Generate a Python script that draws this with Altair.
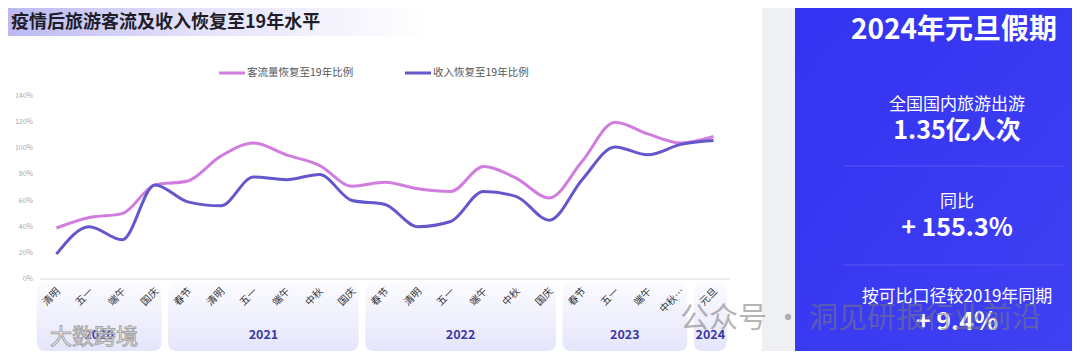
import altair as alt
import pandas as pd

# ---------------- data ----------------
holidays = ["清明", "五一", "端午", "国庆",
            "春节", "清明", "五一", "端午", "中秋", "国庆",
            "春节", "清明", "五一", "端午", "中秋", "国庆",
            "春节", "五一", "端午", "中秋…",
            "元旦"]
year_names = ["2020", "2021", "2022", "2023", "2024"]
year_counts = [4, 6, 6, 4, 1]
passenger_pct = [39, 47, 50, 72, 75, 94, 104, 95, 87, 71, 74, 69, 67, 86, 77, 62, 90, 120, 111, 104, 109]
revenue_pct = [19, 40, 30, 72, 59, 56, 78, 76, 80, 60, 57, 40, 44, 67, 63, 45, 76, 101, 95, 103, 106]
series_names = ["客流量恢复至19年比例", "收入恢复至19年比例"]
series_colors = ["#d17de0", "#6457cc"]
y_ticks = [0, 20, 40, 60, 80, 100, 120, 140]

title_text = "疫情后旅游客流及收入恢复至19年水平"
panel_title = "2024年元旦假期"
panel_items = [("全国国内旅游出游", "1.35亿人次"), ("同比", "+ 155.3%"), ("按可比口径较2019年同期", "+ 9.4%")]

FONT = "Noto Sans CJK SC"

# ---------------- tables ----------------
idx = list(range(len(holidays)))
lines_df = pd.DataFrame({
    "idx": idx * 2,
    "series": [series_names[0]] * len(idx) + [series_names[1]] * len(idx),
    "value": passenger_pct + revenue_pct,
})
labels_df = pd.DataFrame({"idx": idx, "label": holidays})
yt_df = pd.DataFrame({"v": y_ticks, "label": [f"{v}%" for v in y_ticks]})

starts, ends, mids = [], [], []
pos = 0
for c in year_counts:
    first, last = pos, pos + c - 1
    s = first - 0.6
    e = last + 0.2 if last < len(holidays) - 1 else last + 0.4
    starts.append(s)
    ends.append(e)
    mids.append((s + e) / 2)
    pos += c
bands_df = pd.DataFrame({"year": year_names, "s": starts, "e": ends, "m": mids})

xs = alt.Scale(domain=[-0.5, len(holidays) - 0.5], range=[32, 722], nice=False, zero=False)
ys = alt.Scale(domain=[0, 140], range=[271, 88], nice=False, zero=False)

one = alt.Chart(pd.DataFrame({"a": [0]}))

# ---------------- decorations ----------------
title_grad = alt.Gradient(gradient="linear",
                          stops=[alt.GradientStop(color="#bcb8f2", offset=0),
                                 alt.GradientStop(color="#e4e2fa", offset=0.45),
                                 alt.GradientStop(color="#ffffff", offset=1)],
                          x1=0, x2=1, y1=0, y2=0)
title_bg = one.mark_rect(fill=title_grad).encode(
    x=alt.value(0), x2=alt.value(420), y=alt.value(0), y2=alt.value(28))
title = one.mark_text(align="left", baseline="middle", font=FONT, fontSize=18,
                      fontWeight="bold", color="#1e1e2a").encode(
    x=alt.value(3), y=alt.value(15), text=alt.value(title_text))

gray_strip = one.mark_rect(fill="#eff0f3").encode(
    x=alt.value(754), x2=alt.value(787), y=alt.value(0), y2=alt.value(343))
panel_grad = alt.Gradient(gradient="linear",
                          stops=[alt.GradientStop(color="#3333f2", offset=0),
                                 alt.GradientStop(color="#4040f3", offset=1)],
                          x1=0, x2=1, y1=0, y2=1)
panel = one.mark_rect(fill=panel_grad).encode(
    x=alt.value(787), x2=alt.value(1064), y=alt.value(0), y2=alt.value(343))

PX = 946
panel_layers = [
    one.mark_text(align="center", baseline="middle", font=FONT, fontSize=28,
                  fontWeight="bold", color="white").encode(
        x=alt.value(PX), y=alt.value(23), text=alt.value(panel_title)),
]
label_y = [97, 194, 289]
value_y = [123, 220, 314]
for (lab, val), ly, vy in zip(panel_items, label_y, value_y):
    panel_layers.append(one.mark_text(align="center", baseline="middle", font=FONT, fontSize=17,
                                      color="white").encode(
        x=alt.value(PX + 3), y=alt.value(ly), text=alt.value(lab)))
    panel_layers.append(one.mark_text(align="center", baseline="middle", font=FONT, fontSize=25,
                                      fontWeight="bold", color="white").encode(
        x=alt.value(PX + 3), y=alt.value(vy), text=alt.value(val)))
for dy in [158, 257]:
    panel_layers.append(one.mark_rule(color="#5557f4", strokeWidth=1).encode(
        x=alt.value(835), x2=alt.value(1057), y=alt.value(dy)))

# legend
legend_layers = []
for name, col, lx in zip(series_names, series_colors, [211, 397]):
    legend_layers.append(one.mark_rule(color=col, strokeWidth=3).encode(
        x=alt.value(lx), x2=alt.value(lx + 26), y=alt.value(65)))
    legend_layers.append(one.mark_text(align="left", baseline="middle", font=FONT, fontSize=10.5,
                                       color="#555555").encode(
        x=alt.value(lx + 28), y=alt.value(65), text=alt.value(name)))

# ---------------- chart layers ----------------
band_grad = alt.Gradient(gradient="linear",
                         stops=[alt.GradientStop(color="#fbfbff", offset=0),
                                alt.GradientStop(color="#e5e5fb", offset=1)],
                         x1=0, x2=0, y1=0, y2=1)
bands = alt.Chart(bands_df).mark_rect(fill=band_grad, cornerRadius=8).encode(
    x=alt.X("s:Q", scale=xs, axis=None), x2="e:Q",
    y=alt.value(275), y2=alt.value(343))
band_text = alt.Chart(bands_df).mark_text(font=FONT, fontSize=12.5, fontWeight="bold",
                                          color="#3b37a6", baseline="middle").encode(
    x=alt.X("m:Q", scale=xs, axis=None), y=alt.value(327), text="year:N")

baseline = alt.Chart(pd.DataFrame({"v": [0]})).mark_rule(color="#dcdce4", strokeWidth=1).encode(
    x=alt.value(32), x2=alt.value(722), y=alt.Y("v:Q", scale=ys, axis=None))

ytext = alt.Chart(yt_df).mark_text(align="right", baseline="middle", font=FONT, fontSize=7,
                                   color="#a8a8b0").encode(
    x=alt.value(25), y=alt.Y("v:Q", scale=ys, axis=None), text="label:N")

xtext = alt.Chart(labels_df).mark_text(align="right", baseline="middle", angle=315, font=FONT,
                                       fontSize=10, color="#333333", dx=3).encode(
    x=alt.X("idx:Q", scale=xs, axis=None), y=alt.value(284), text="label:N")

lines = alt.Chart(lines_df).mark_line(interpolate="monotone", strokeWidth=3).encode(
    x=alt.X("idx:Q", scale=xs, axis=None),
    y=alt.Y("value:Q", scale=ys, axis=None),
    color=alt.Color("series:N", scale=alt.Scale(domain=series_names, range=series_colors), legend=None),
    order=alt.Order("idx:Q"),
)

# watermarks
wm1 = one.mark_text(align="left", baseline="middle", font=FONT, fontSize=29,
                    color="#7a7a7a", opacity=0.55).encode(
    x=alt.value(672), y=alt.value(311), text=alt.value("公众号 · 洞见研报行业前沿"))
wm2 = one.mark_text(align="left", baseline="middle", font=FONT, fontSize=22,
                    color="white", stroke="#9a9a9a", strokeWidth=1, opacity=0.85).encode(
    x=alt.value(42), y=alt.value(329), text=alt.value("大数跨境"))

chart = alt.layer(
    title_bg, title, gray_strip, panel, *panel_layers, *legend_layers,
    bands, band_text, baseline, ytext, xtext, lines, wm1, wm2
).properties(
    width=1064, height=343,
    autosize=alt.AutoSizeParams(type="none"),
    padding=0,
).configure_view(stroke=None)

chart.save("out.html", embed_options={"renderer": "svg", "actions": False})
